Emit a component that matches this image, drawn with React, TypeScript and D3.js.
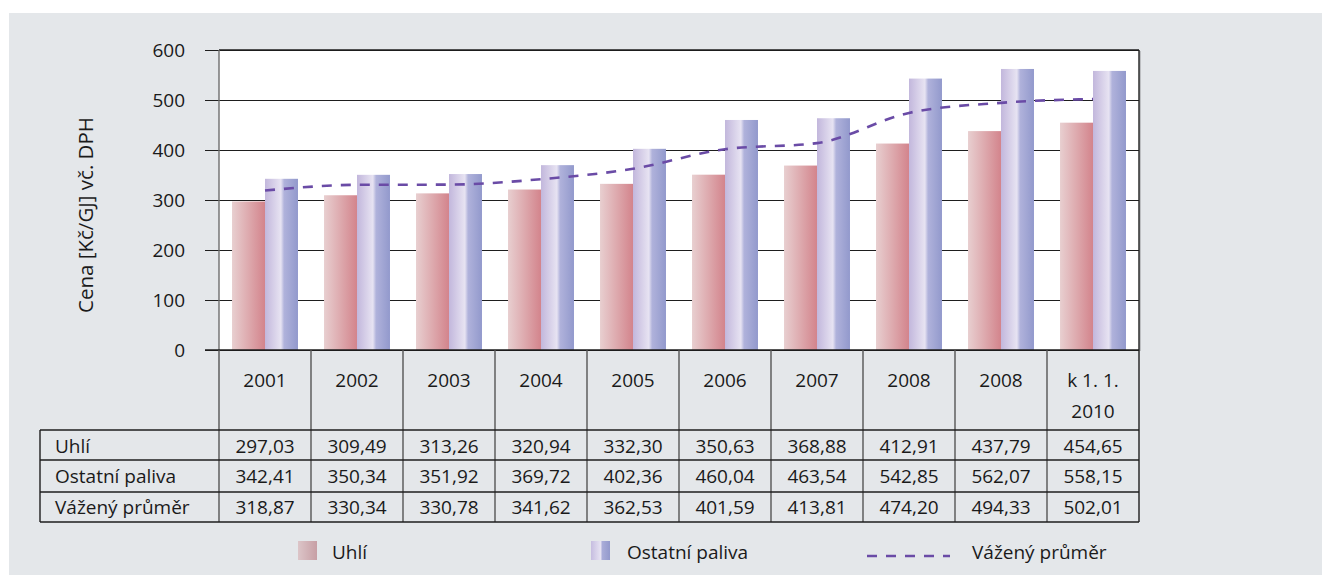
import * as d3 from 'd3';
import { useRef, useEffect } from 'react';

// values
const categories: string[][] = [['2001'], ['2002'], ['2003'], ['2004'], ['2005'], ['2006'], ['2007'], ['2008'], ['2008'], ['k 1. 1.', '2010']];
const uhli: number[] = [297.03, 309.49, 313.26, 320.94, 332.30, 350.63, 368.88, 412.91, 437.79, 454.65];
const ostatni: number[] = [342.41, 350.34, 351.92, 369.72, 402.36, 460.04, 463.54, 542.85, 562.07, 558.15];
const vazeny: number[] = [318.87, 330.34, 330.78, 341.62, 362.53, 401.59, 413.81, 474.20, 494.33, 502.01];
const rowNames: string[] = ['Uhlí', 'Ostatní paliva', 'Vážený průměr'];
const yTicks: number[] = [0, 100, 200, 300, 400, 500, 600];

const FONT = "'Open Sans', sans-serif";
const FS = 19;

const App = () => {
    const ref = useRef<SVGSVGElement>(null);

    useEffect(() => {
        if (!ref.current) return;
        const root = d3.select(ref.current);
        root.selectAll('*').remove();

        const left = 219, right = 1139, top = 50, bottom = 350;
        const rowLines = [430, 460, 492, 522];
        const tableLeft = 40;

        // gradients
        const defs = root.append('defs');
        const grad = (id: string, stops: [string, string][]) => {
            const g = defs.append('linearGradient').attr('id', id)
                .attr('x1', '0%').attr('x2', '100%').attr('y1', '0%').attr('y2', '0%');
            stops.forEach(([o, c]) => g.append('stop').attr('offset', o).attr('stop-color', c));
        };
        grad('gUhli', [['0%', '#e8cfd0'], ['100%', '#d3848c']]);
        grad('gOst', [['0%', '#c2b7dc'], ['48%', '#e7e3f2'], ['58%', '#b0b2db'], ['100%', '#9299cc']]);
        grad('gUhliLeg', [['0%', '#dcc5c8'], ['100%', '#c79fa5']]);
        grad('gOstLeg', [['0%', '#c6bde0'], ['50%', '#e6e2f2'], ['60%', '#a9acd8'], ['100%', '#9399cc']]);

        root.append('rect').attr('width', 1322).attr('height', 576).attr('fill', '#ffffff');
        root.append('rect').attr('x', 9).attr('y', 13).attr('width', 1313).attr('height', 562).attr('fill', '#e4e7ea');

        const xScale = d3.scaleBand<number>()
            .domain(d3.range(categories.length))
            .range([left, right])
            .padding(0);
        const step = xScale.bandwidth();
        const groupW = step * 0.717;
        const x1 = d3.scaleBand<string>()
            .domain(['uhli', 'ost'])
            .range([(step - groupW) / 2, (step + groupW) / 2]);

        const yScale = d3.scaleLinear().domain([0, 600]).range([bottom, top]);

        // plot area
        root.append('rect').attr('x', right).attr('y', top + 1).attr('width', 2).attr('height', bottom - top)
            .attr('fill', '#bdbfc2');
        root.append('rect').attr('x', left).attr('y', top).attr('width', right - left).attr('height', bottom - top)
            .attr('fill', '#ffffff');

        const axis = root.append('g')
            .attr('transform', `translate(${right},0)`)
            .call(d3.axisLeft(yScale).tickValues(yTicks).tickSize(right - left + 14).tickPadding(20).tickFormat(d3.format('d')));
        axis.select('.domain').remove();
        axis.selectAll('line').attr('stroke', '#1e1e1e').attr('stroke-width', 1.2);
        axis.selectAll('text')
            .attr('font-family', FONT).attr('font-size', FS).attr('fill', '#1a1a1a')
            .attr('dy', '0.36em');

        root.append('text')
            .attr('transform', `translate(93,${(top + bottom) / 2 + 15}) rotate(-90)`)
            .attr('text-anchor', 'middle')
            .attr('font-family', FONT).attr('font-size', 20.5).attr('fill', '#1a1a1a')
            .text('Cena [Kč/GJ] vč. DPH');

        // bars
        const bars = root.append('g');
        categories.forEach((_, i) => {
            const g = bars.append('g').attr('transform', `translate(${xScale(i)},0)`);
            g.append('rect')
                .attr('x', x1('uhli')!).attr('y', yScale(uhli[i]))
                .attr('width', x1.bandwidth()).attr('height', bottom - yScale(uhli[i]))
                .attr('fill', 'url(#gUhli)');
            g.append('rect')
                .attr('x', x1('ost')!).attr('y', yScale(ostatni[i]))
                .attr('width', x1.bandwidth()).attr('height', bottom - yScale(ostatni[i]))
                .attr('fill', 'url(#gOst)');
        });

        // weighted average line
        const line = d3.line<number>()
            .x((_, i) => xScale(i)! + step / 2)
            .y(d => yScale(d))
            .curve(d3.curveMonotoneX);
        root.append('path')
            .datum(vazeny)
            .attr('d', line)
            .attr('fill', 'none')
            .attr('stroke', '#6a4ba6')
            .attr('stroke-width', 2.6)
            .attr('stroke-dasharray', '10 9');

        // frame lines
        root.append('line').attr('x1', left).attr('x2', right).attr('y1', top).attr('y2', top)
            .attr('stroke', '#1e1e1e').attr('stroke-width', 1.4);
        root.append('line').attr('x1', right).attr('x2', right).attr('y1', top).attr('y2', bottom)
            .attr('stroke', '#1e1e1e').attr('stroke-width', 1.4);
        root.append('line').attr('x1', left).attr('x2', left).attr('y1', top).attr('y2', bottom)
            .attr('stroke', '#6e6e6e').attr('stroke-width', 1.4);
        root.append('line').attr('x1', left - 14).attr('x2', right).attr('y1', bottom).attr('y2', bottom)
            .attr('stroke', '#1e1e1e').attr('stroke-width', 1.4);

        // data table
        const table = root.append('g');
        d3.range(categories.length + 1).forEach(i => {
            const x = i < categories.length ? xScale(i)! : right;
            table.append('line').attr('x1', x).attr('x2', x).attr('y1', bottom).attr('y2', rowLines[3])
                .attr('stroke', i === categories.length ? '#1e1e1e' : '#555555').attr('stroke-width', 1.4);
        });
        rowLines.forEach(y => {
            table.append('line').attr('x1', tableLeft).attr('x2', right).attr('y1', y).attr('y2', y)
                .attr('stroke', '#1e1e1e').attr('stroke-width', 1.4);
        });
        table.append('line').attr('x1', tableLeft).attr('x2', tableLeft).attr('y1', rowLines[0]).attr('y2', rowLines[3])
            .attr('stroke', '#1e1e1e').attr('stroke-width', 1.4);

        const txt = (x: number, y: number, s: string, anchor = 'middle') =>
            table.append('text').attr('x', x).attr('y', y).attr('text-anchor', anchor)
                .attr('font-family', FONT).attr('font-size', FS).attr('fill', '#1a1a1a').text(s);

        categories.forEach((lines, i) => {
            const cx = xScale(i)! + step / 2;
            lines.forEach((s, k) => txt(cx, 387 + k * 31, s));
        });
        const fmt = (v: number) => d3.format('.2f')(v).replace('.', ',');
        const rowBase = [453, 483, 514];
        [uhli, ostatni, vazeny].forEach((series, r) => {
            txt(55, rowBase[r], rowNames[r], 'start');
            series.forEach((v, i) => txt(xScale(i)! + step / 2, rowBase[r], fmt(v)));
        });

        // legend
        const legend = root.append('g');
        const legText = (x: number, s: string) =>
            legend.append('text').attr('x', x).attr('y', 559)
                .attr('font-family', FONT).attr('font-size', FS).attr('fill', '#1a1a1a').text(s);
        legend.append('rect').attr('x', 298).attr('y', 541).attr('width', 19).attr('height', 19).attr('fill', 'url(#gUhliLeg)');
        legText(332, rowNames[0]);
        legend.append('rect').attr('x', 591).attr('y', 541).attr('width', 19).attr('height', 19).attr('fill', 'url(#gOstLeg)');
        legText(627, rowNames[1]);
        legend.append('line').attr('x1', 867).attr('x2', 950).attr('y1', 556).attr('y2', 556)
            .attr('stroke', '#6a4ba6').attr('stroke-width', 2.6).attr('stroke-dasharray', '10 9');
        legText(972, rowNames[2]);
    }, []);

    return (<svg ref={ref} width={1322} height={576} style={{ position: 'absolute', left: 0, top: 0 }}></svg>);
};

export default App;
